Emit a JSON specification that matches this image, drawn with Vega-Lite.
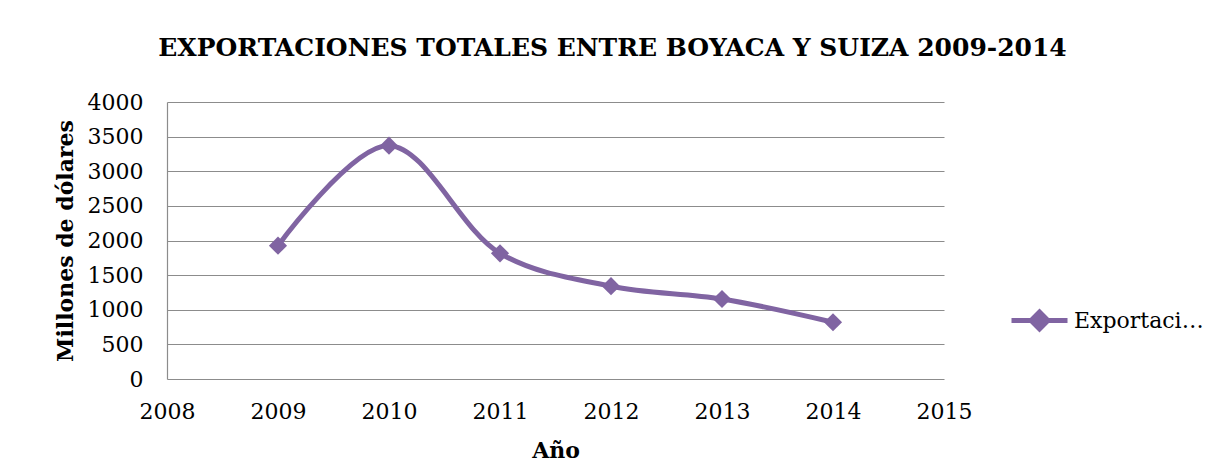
{
  "$schema": "https://vega.github.io/schema/vega-lite/v6.json",
  "autosize": "none",
  "padding": {"left": 167, "top": 102, "right": 262, "bottom": 86},
  "width": 777,
  "height": 277,
  "background": "white",
  "title": {
    "text": "EXPORTACIONES TOTALES ENTRE BOYACA Y SUIZA 2009-2014",
    "anchor": "middle",
    "frame": "group",
    "dx": 57,
    "offset": 30,
    "font": "DejaVu Serif",
    "fontSize": 25,
    "fontWeight": "bold",
    "color": "#000000"
  },
  "data": {
    "values": [
      {"Año": 2009, "valor": 1925, "serie": "Exportaciones"},
      {"Año": 2010, "valor": 3370, "serie": "Exportaciones"},
      {"Año": 2011, "valor": 1815, "serie": "Exportaciones"},
      {"Año": 2012, "valor": 1340, "serie": "Exportaciones"},
      {"Año": 2013, "valor": 1155, "serie": "Exportaciones"},
      {"Año": 2014, "valor": 820, "serie": "Exportaciones"}
    ]
  },
  "encoding": {
    "x": {
      "field": "Año",
      "type": "quantitative",
      "scale": {"domain": [2008, 2015], "nice": false, "zero": false},
      "axis": {
        "title": "Año",
        "values": [2008, 2009, 2010, 2011, 2012, 2013, 2014, 2015],
        "format": "d",
        "grid": false,
        "ticks": false,
        "domain": false,
        "labelFlush": false,
        "labelOverlap": false,
        "labelFont": "DejaVu Serif",
        "labelFontSize": 22,
        "labelColor": "#000000",
        "labelPadding": 22,
        "titleFont": "DejaVu Serif",
        "titleFontSize": 22,
        "titleFontWeight": "bold",
        "titleColor": "#000000",
        "titlePadding": 18
      }
    },
    "y": {
      "field": "valor",
      "type": "quantitative",
      "scale": {"domain": [0, 4000], "nice": false},
      "axis": {
        "title": "Millones de dólares",
        "values": [0, 500, 1000, 1500, 2000, 2500, 3000, 3500, 4000],
        "format": "d",
        "grid": true,
        "gridColor": "#8c8c8c",
        "gridWidth": 1.2,
        "ticks": false,
        "domain": true,
        "domainColor": "#8c8c8c",
        "domainWidth": 1.2,
        "labelFont": "DejaVu Serif",
        "labelFontSize": 22,
        "labelColor": "#000000",
        "labelPadding": 24,
        "titleFont": "DejaVu Serif",
        "titleFontSize": 22,
        "titleFontWeight": "bold",
        "titleColor": "#000000",
        "titlePadding": 10
      }
    },
    "color": {
      "field": "serie",
      "type": "nominal",
      "scale": {"range": ["#8064A2"]},
      "legend": {
        "title": null,
        "orient": "none",
        "legendX": 842,
        "legendY": 188,
        "symbolType": "M-1,0H1M0,-0.3L0.3,0L0,0.3L-0.3,0Z",
        "symbolSize": 3136,
        "symbolStrokeWidth": 5,
        "symbolFillColor": "#8064A2",
        "symbolStrokeColor": "#8064A2",
        "labelFont": "DejaVu Serif",
        "labelFontSize": 22,
        "labelColor": "#000000",
        "labelLimit": 130,
        "labelOffset": 4
      }
    }
  },
  "layer": [
    {
      "mark": {"type": "line", "interpolate": "catmull-rom", "strokeWidth": 5}
    },
    {
      "mark": {"type": "point", "shape": "diamond", "size": 330, "filled": true, "opacity": 1}
    }
  ],
  "config": {"view": {"stroke": null}}
}
